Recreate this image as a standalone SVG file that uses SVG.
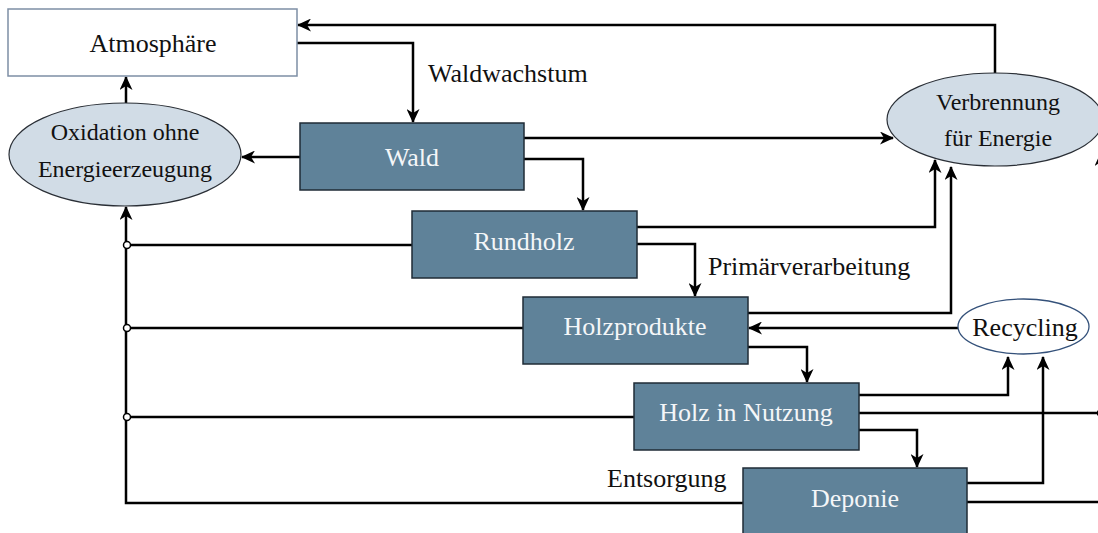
<svg xmlns="http://www.w3.org/2000/svg" width="1098" height="533" viewBox="0 0 1098 533">
<style>
.box{fill:#5f8299;stroke:#1f2b36;stroke-width:1.5}
.ell{fill:#d1dce6;stroke:#2a2f36;stroke-width:1.2}
.t{font-family:"Liberation Serif","Times New Roman",serif;font-size:26px;text-anchor:middle;fill:#111}
.tw{fill:#f4f6f8}
.ts{font-size:24px}
.l{font-family:"Liberation Serif","Times New Roman",serif;font-size:26px;fill:#111}
.c{fill:none;stroke:#000;stroke-width:2.5}
.a{marker-end:url(#arr)}
.j{fill:#fff;stroke:#000;stroke-width:1.5}
</style>
<defs>
<marker id="arr" markerUnits="userSpaceOnUse" markerWidth="14" markerHeight="13" viewBox="0 0 14 13" refX="13" refY="6.5" orient="auto">
<path d="M0,0 L14,6.5 L0,13 L4,6.5 Z" fill="#000"/>
</marker>
</defs>
<rect width="1098" height="533" fill="#fff"/>
<g id="connectors">
<path class="c a" d="M995,73 V25 H298"/>
<path class="c a" d="M297,43 H413 V122"/>
<path class="c a" d="M126,103 V77"/>
<path class="c a" d="M300,157 H242"/>
<path class="c a" d="M524,138 H893"/>
<path class="c a" d="M524,159 H583 V210"/>
<path class="c a" d="M637,227 H935 V160"/>
<path class="c a" d="M637,244 H695 V296"/>
<path class="c a" d="M748,313 H951 V167"/>
<path class="c a" d="M958,328 H749"/>
<path class="c a" d="M748,347 H807 V382"/>
<path class="c a" d="M859,395 H1008 V357"/>
<path class="c" d="M859,413 H1101"/>
<path class="c a" d="M859,430 H917 V467"/>
<path class="c a" d="M967,483 H1043 V357"/>
<path class="c a" d="M967,502 H1101 V153"/>
<path class="c" d="M412,245 H127"/>
<path class="c" d="M523,328 H127"/>
<path class="c" d="M634,417 H127"/>
<path class="c a" d="M743,503 H126 V207"/>
<circle class="j" cx="127" cy="245" r="3.5"/>
<circle class="j" cx="127" cy="328" r="3.5"/>
<circle class="j" cx="127" cy="417" r="3.5"/>
<circle class="j" cx="1101" cy="413" r="3.5"/>
</g>
<g id="atmosphaere">
<rect x="8" y="9" width="289" height="67" fill="#fff" stroke="#7d8ea5" stroke-width="1.5"/>
<text class="t" x="153" y="52">Atmosphäre</text>
</g>
<g id="oxidation">
<ellipse class="ell" cx="125" cy="154.5" rx="116" ry="51.5"/>
<text class="t ts" x="125" y="140">Oxidation ohne</text>
<text class="t ts" x="125" y="177">Energieerzeugung</text>
</g>
<g id="verbrennung">
<ellipse class="ell" cx="995" cy="119.5" rx="108" ry="46.5"/>
<text class="t ts" x="998" y="110">Verbrennung</text>
<text class="t ts" x="998" y="146">für Energie</text>
</g>
<g id="wald">
<rect class="box" x="300" y="123" width="224" height="67"/>
<text class="t tw" x="412" y="166">Wald</text>
</g>
<g id="rundholz">
<rect class="box" x="412" y="211" width="225" height="67"/>
<text class="t tw" x="524" y="250">Rundholz</text>
</g>
<g id="holzprodukte">
<rect class="box" x="523" y="297" width="225" height="67"/>
<text class="t tw" x="635" y="335">Holzprodukte</text>
</g>
<g id="recycling">
<ellipse cx="1023.5" cy="326.5" rx="65.5" ry="27.5" fill="#fff" stroke="#34517a" stroke-width="1.3"/>
<text class="t" x="1025" y="336">Recycling</text>
</g>
<g id="holz-in-nutzung">
<rect class="box" x="634" y="383" width="225" height="67"/>
<text class="t tw" x="746" y="421">Holz in Nutzung</text>
</g>
<g id="deponie">
<rect class="box" x="743" y="468" width="224" height="67"/>
<text class="t tw" x="855" y="507">Deponie</text>
</g>
<g id="labels">
<text class="l" x="428" y="82">Waldwachstum</text>
<text class="l" x="708" y="275">Primärverarbeitung</text>
<text class="l" x="607" y="487">Entsorgung</text>
</g>
</svg>
